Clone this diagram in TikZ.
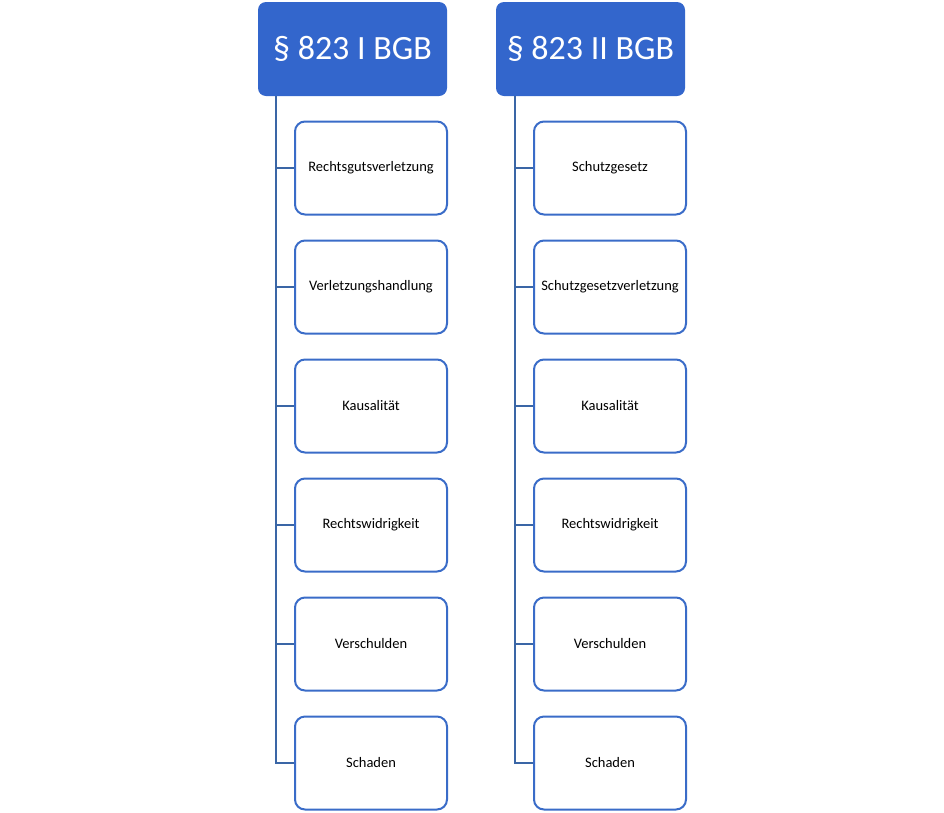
\documentclass[tikz,border=0pt]{standalone}
\usepackage{fontspec}
\setmainfont{Carlito}
\definecolor{hdrblue}{HTML}{3366CC}
\definecolor{boxblue}{HTML}{3A6CC8}
\definecolor{linkblue}{HTML}{3A66A6}
\begin{document}
\begin{tikzpicture}[x=1pt,y=-1pt,
  header/.style={draw=none,fill=hdrblue,rounded corners=8pt,minimum width=189pt,minimum height=94pt,inner sep=0pt,text=white,font=\fontsize{34}{40}\selectfont},
  item/.style={draw=boxblue,line width=2pt,fill=white,rounded corners=10pt,minimum width=152pt,minimum height=93pt,inner sep=0pt,text=black,font=\fontsize{14.5}{17}\selectfont},
  link/.style={draw=linkblue,line width=2pt}]
\useasboundingbox (0,0) rectangle (944,812);
% left column
\node[header] (h1) at (352.5,49) {§ 823 I BGB};
\coordinate (t1) at (276,96);
\foreach \n/\txt [count=\i from 0] in {a/Rechtsgutsverletzung,b/Verletzungshandlung,c/Kausalität,d/Rechtswidrigkeit,e/Verschulden,f/Schaden}{
  \node[item] (l\n) at (371,168+119*\i) {\txt};
}
\draw[link] (t1) |- (lf.west);
\foreach \n in {a,b,c,d,e}{\draw[link] (t1 |- l\n.west) -- (l\n.west);}
% right column
\node[header] (h2) at (590.5,49) {§ 823 II BGB};
\coordinate (t2) at (515,96);
\foreach \n/\txt [count=\i from 0] in {a/Schutzgesetz,b/Schutzgesetzverletzung,c/Kausalität,d/Rechtswidrigkeit,e/Verschulden,f/Schaden}{
  \node[item] (r\n) at (610,168+119*\i) {\txt};
}
\draw[link] (t2) |- (rf.west);
\foreach \n in {a,b,c,d,e}{\draw[link] (t2 |- r\n.west) -- (r\n.west);}
\end{tikzpicture}
\end{document}
